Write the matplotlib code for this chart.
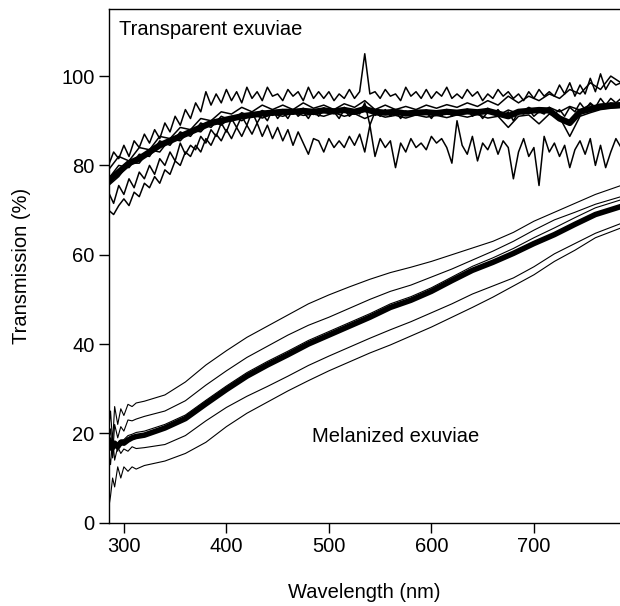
import matplotlib
matplotlib.use('Agg')
import matplotlib.pyplot as plt

plt.rcParams['font.family'] = ['Liberation Sans', 'DejaVu Sans']

# melanized exuviae, shared wavelength grid
mel_wl = [285, 287, 289, 291, 294, 297, 300, 304, 308, 312, 320, 340, 360, 380, 400, 420, 440,
          460, 480, 500, 520, 540, 560, 580, 600, 620, 640, 660, 680, 700, 720, 740, 760, 785]
mel_mean = [16.5, 17.5, 16.8, 17.8, 17.0, 18.0, 17.8, 18.5, 19.0, 19.3, 19.6, 21.2, 23.3, 26.6, 29.8, 32.8,
            35.3, 37.6, 40.0, 42.0, 44.0, 46.0, 48.2, 49.8, 51.8, 54.2, 56.5, 58.3, 60.3, 62.5, 64.5, 66.8, 69.0, 70.8]
mel_1 = [20.0, 25.0, 18.0, 26.0, 22.0, 25.5, 24.0, 26.5, 26.0, 26.8, 27.2, 28.6, 31.5, 35.3, 38.5, 41.5,
         44.0, 46.5, 49.0, 51.0, 52.8, 54.5, 56.0, 57.2, 58.5, 60.0, 61.5, 63.0, 65.0, 67.5, 69.5, 71.5, 73.5, 75.5]
mel_2 = [18.0, 21.0, 15.0, 22.0, 19.0, 21.5, 20.5, 23.0, 22.8, 23.2, 23.8, 25.0, 27.3, 30.8, 34.0, 37.0,
         39.5, 42.0, 44.2, 46.0, 48.0, 50.0, 51.8, 53.2, 55.0, 56.8, 58.8, 60.8, 63.0, 65.5, 67.8, 69.5, 71.3, 73.0]
mel_3 = [15.0, 19.0, 14.5, 18.0, 16.0, 18.5, 18.6, 19.5, 19.8, 20.2, 20.5, 22.0, 24.1, 27.4, 30.6, 33.6,
         36.1, 38.4, 40.8, 42.8, 44.8, 46.8, 49.0, 50.6, 52.6, 55.0, 57.4, 59.3, 61.4, 63.8, 66.0, 68.3, 70.5, 72.3]
mel_4 = [16.0, 13.0, 19.0, 14.0, 17.0, 15.5, 16.5, 16.0, 17.0, 16.6, 16.8, 17.5, 19.5, 22.8, 25.8, 28.3,
         30.5, 32.8, 35.2, 37.3, 39.3, 41.3, 43.2, 45.0, 47.0, 49.0, 51.2, 53.0, 54.8, 57.3, 60.2, 62.5, 64.8, 67.0]
mel_5 = [3.0, 6.0, 10.0, 8.0, 12.5, 10.0, 12.5, 11.5, 12.5, 12.0, 12.8, 13.8, 15.5, 18.0, 21.5, 24.5,
         27.0, 29.5, 31.8, 34.0, 36.0, 38.0, 39.8, 41.8, 43.8, 46.0, 48.2, 50.5, 53.0, 55.5, 58.5, 61.0, 63.8, 66.0]

# transparent exuviae, fine grid (5 nm) and coarse grid (10 nm)
tr_wl5 = list(range(285, 790, 5))
tr_wl10 = list(range(285, 790, 10))
tr_a = [80, 83, 81.5, 84.5, 82, 85.5, 84, 87, 85, 88, 86, 89.5, 87.5, 91, 89, 92.5, 90.5, 94, 92, 96.5,
        93.5, 96, 94, 97, 94.5, 96.5, 94, 97.5, 95, 96.5, 94.5, 97.5, 95.5, 96, 94.5, 97, 95.5, 96.5, 94.5, 97.5,
        95, 96.5, 95, 96.5, 94.5, 96, 95, 97, 95, 96.5, 105, 96, 96.5, 95, 97, 95.5, 96, 94.5, 97.5, 95.5,
        96.5, 95, 97, 95, 96.5, 95.5, 97.5, 95, 96, 95, 97, 95.5, 96.5, 94.5, 96, 95, 97, 95.5, 96.5, 95,
        96, 94.5, 96.5, 95, 97, 95.5, 96.5, 95.5, 98, 96, 98.5, 95.5, 98, 96, 99.5, 96.5, 100.5, 97, 99, 98, 98.5]
tr_e = [74, 71.5, 75.5, 73.5, 77, 75, 78.5, 77, 80, 78, 81.5, 80, 83, 81, 85, 82.5, 84.5, 83.5, 86.5, 85,
        88, 86.5, 89.5, 87.5, 90.5, 88.5, 91, 89, 92, 89.5, 91.5, 90, 92.5, 90.5, 92, 90.5, 92.5, 91, 92, 90.5,
        92.5, 91, 92.5, 91.5, 92, 90.5, 92.5, 91, 92, 91.5, 94, 89, 92, 91, 92.5, 91, 92, 90.5, 92, 91,
        92.5, 91.5, 92, 90.5, 92, 91, 92.5, 91, 92, 91.5, 92.5, 91, 92, 90.5, 92, 91.5, 92.5, 91, 92, 90,
        92, 91.5, 92.5, 91, 92, 91.5, 93, 91.5, 92.5, 91, 93, 92, 94, 92.5, 94, 93, 95, 93.5, 95, 94, 95]
tr_f = [70, 69, 71, 72.5, 71, 74, 73, 76, 75, 77.5, 76, 79, 78, 81, 80, 83, 82, 84.5, 83, 86,
        84.5, 87, 85.5, 88, 86, 88.5, 86.5, 89, 87, 89.5, 86.5, 89, 86, 88.5, 85.5, 88, 84.5, 87.5, 85, 82.5,
        86, 85.5, 83, 86, 84, 85.5, 84, 86.5, 84.5, 87, 83, 89, 82, 86, 84, 85.5, 79.5, 85, 83, 86,
        84, 85, 83.5, 86.5, 85, 86, 84, 80.5, 90, 84.5, 82.5, 86.5, 81, 85, 83.5, 86, 82.5, 85.5, 84, 77,
        83, 86, 82, 84, 75.5, 86.5, 83, 85, 82, 84.5, 79.5, 83.5, 85.5, 82.5, 86, 80, 84.5, 79.5, 83, 86, 84]
tr_b = [79, 82, 81, 84, 83.5, 86.5, 86, 88.5, 88, 90.5, 90, 92, 91.5, 93, 92, 93.5, 92.5, 93.5, 92.5, 94,
        92.8, 93.5, 92.5, 93.8, 93, 94.5, 92.5, 93.5, 92.5, 93.2, 92.5, 93.5, 92.8, 93.6, 93, 94, 93.2, 94.5, 93.5, 95.5,
        94, 95.5, 94.5, 96, 95, 97, 96, 98.5, 97, 100, 98.5]
tr_c = [77, 80, 79.5, 82.5, 82, 85.5, 84.5, 87.5, 86.5, 89.5, 88.5, 91, 90, 91.8, 90.8, 92.3, 91.2, 92.5, 91.5, 92.8,
        91.4, 92.9, 91.6, 93, 91.5, 93.5, 91.2, 92.3, 91.5, 92.2, 91.2, 92.4, 91.3, 92.5, 91.4, 92.6, 91.5, 92.8, 91.2, 92.4,
        91.6, 93, 91.8, 93, 92, 93.2, 92.4, 93.6, 92.8, 94, 93.4]
tr_d = [75.5, 77.5, 80.5, 80.5, 83.5, 83, 86, 85.5, 88, 87.5, 90, 89, 91, 90, 91.5, 90.6, 91.5, 91, 91.8, 91.2,
        91.5, 91, 91.8, 91, 91.6, 90.5, 91.5, 90.8, 91.2, 90.6, 91.3, 90.8, 91.2, 90.7, 91.3, 90.8, 91.4, 90.6, 91, 88.5,
        91, 91.3, 89.3, 91.5, 90.8, 86.5, 91, 91.8, 92.5, 92.8, 93]
tr_mean = [76.5, 78.5, 80.5, 81.5, 83, 84.5, 85.5, 86.5, 87.5, 88.5, 89.5, 90, 90.5, 91, 91.3, 91.6, 91.8, 92, 92, 92.2,
           92, 92.3, 92.1, 92.4, 92, 92.6, 92, 91.8, 92, 91.6, 91.8, 91.9, 91.7, 92, 91.8, 92.1, 91.9, 92.2, 91.6, 91,
           92, 92.2, 92.4, 92.3, 90.5, 89.5, 92, 92.6, 93.2, 93.4, 93.5]

fig = plt.figure(figsize=(6.2, 6.06), dpi=100)
ax = fig.add_axes([0.175, 0.1375, 0.825, 0.8475])

for ys in [mel_1, mel_2, mel_3, mel_4, mel_5]:
    ax.plot(mel_wl, ys, color='black', lw=0.8)
ax.plot(mel_wl, mel_mean, color='black', lw=4, solid_capstyle='round')

for ys in [tr_a, tr_e, tr_f]:
    ax.plot(tr_wl5, ys, color='black', lw=1.1)
for ys in [tr_b, tr_c, tr_d]:
    ax.plot(tr_wl10, ys, color='black', lw=1.1)
ax.plot(tr_wl10, tr_mean, color='black', lw=4.5, solid_capstyle='round')

ax.text(295, 109.1, 'Transparent exuviae', fontsize=14.5, va='baseline', ha='left')
ax.text(484, 18, 'Melanized exuviae', fontsize=14.5, va='baseline', ha='left')

ax.set_xlim(285, 784)
ax.set_ylim(0, 115)
ax.set_xticks([300, 400, 500, 600, 700])
ax.set_yticks([0, 20, 40, 60, 80, 100])
ax.spines['right'].set_visible(False)
for s in ['left', 'bottom', 'top']:
    ax.spines[s].set_linewidth(1.0)
ax.tick_params(direction='out', length=7, width=1.0, labelsize=14.5, pad=3)
ax.set_xlabel('Wavelength (nm)', fontsize=14.5, labelpad=20)
ax.set_ylabel('Transmission (%)', fontsize=14.5, labelpad=22)

fig.savefig('out.png', dpi=100)
